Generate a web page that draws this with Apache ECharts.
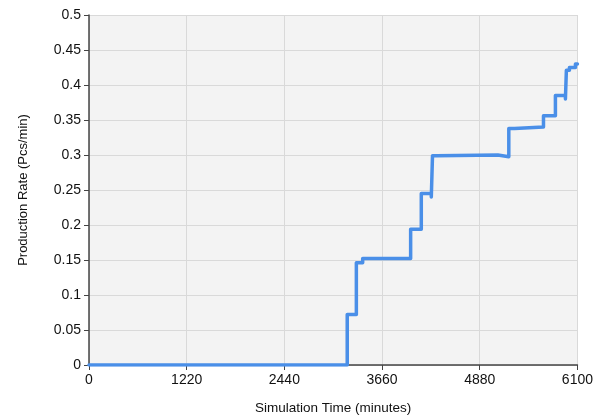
<!DOCTYPE html>
<html>
<head>
<meta charset="utf-8">
<script src="https://cdn.jsdelivr.net/npm/echarts@6/dist/echarts.min.js"></script>
<style>html,body{margin:0;padding:0;background:#fff;}#c{width:596px;height:420px;}</style>
</head>
<body>
<div id="c"></div>
<script>
const times = [0, 3225, 3339, 3418, 4017, 4150, 4275, 4290, 4340, 5106, 5243, 5314, 5676, 5825, 5950, 5962, 6000, 6075, 6100];
const rates = [0, 0.072, 0.146, 0.152, 0.194, 0.245, 0.240, 0.299, 0.300, 0.2975, 0.338, 0.340, 0.356, 0.385, 0.380, 0.421, 0.425, 0.430, 0.430];
const xTicks = [0, 1220, 2440, 3660, 4880, 6100];
const yTicks = [0, 0.05, 0.1, 0.15, 0.2, 0.25, 0.3, 0.35, 0.4, 0.45, 0.5];
const xName = 'Simulation Time (minutes)';
const yName = 'Production Rate (Pcs/min)';

const chart = echarts.init(document.getElementById('c'), null, {renderer: 'canvas'});
const font = 'Liberation Sans, Arial, sans-serif';
chart.setOption({
  animation: false,
  grid: {left: 89, right: 18, top: 15, bottom: 55, show: true, backgroundColor: '#f3f3f3', borderWidth: 0},
  xAxis: {
    type: 'value', min: xTicks[0], max: xTicks[xTicks.length - 1], interval: xTicks[1] - xTicks[0],
    name: xName, nameLocation: 'middle', nameGap: 36,
    nameTextStyle: {fontFamily: font, fontSize: 13.5, color: '#111'},
    axisLine: {show: true, onZero: false, lineStyle: {color: '#444', width: 1.5}},
    axisTick: {show: true, length: 5, lineStyle: {color: '#444'}},
    axisLabel: {fontFamily: font, fontSize: 14, color: '#111', margin: 8,
      formatter: v => String(Math.round(v))},
    splitLine: {show: true, lineStyle: {color: '#d9d9d9', width: 1}}
  },
  yAxis: {
    type: 'value', min: yTicks[0], max: yTicks[yTicks.length - 1], interval: 0.05,
    name: yName, nameLocation: 'middle', nameGap: 59,
    nameTextStyle: {fontFamily: font, fontSize: 13, color: '#111'},
    axisLine: {show: true, lineStyle: {color: '#444', width: 1.5}},
    axisTick: {show: true, length: 5, lineStyle: {color: '#444'}},
    axisLabel: {fontFamily: font, fontSize: 14, color: '#111', margin: 8,
      formatter: v => String(+v.toFixed(2))},
    splitLine: {show: true, lineStyle: {color: '#d9d9d9', width: 1}}
  },
  series: [{
    type: 'line', step: 'end', showSymbol: false,
    data: times.map((t, i) => [t, rates[i]]),
    lineStyle: {color: '#4a8fe8', width: 3.5, join: 'round', cap: 'round'},
    itemStyle: {color: '#4a8fe8'}
  }]
});
</script>
</body>
</html>
